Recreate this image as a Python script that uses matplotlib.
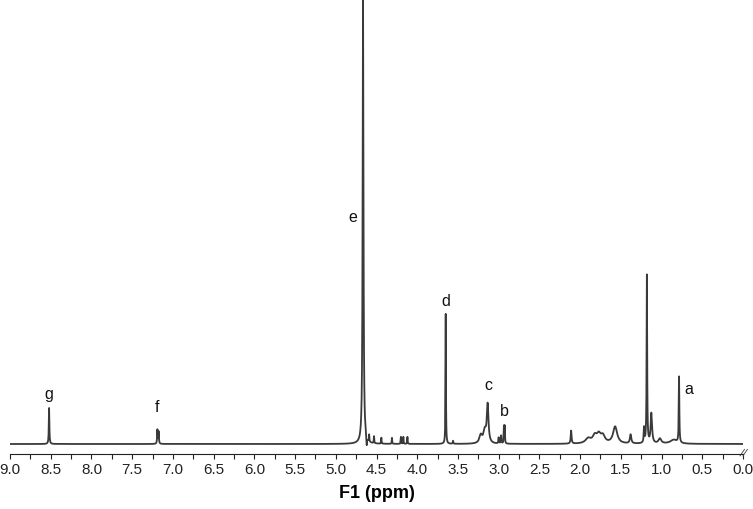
#!/usr/bin/env python3
"""
1H NMR 谱图重绘：峰位/峰高/半峰宽列表 -> 洛伦兹线形叠加
"""

import numpy as np
import matplotlib
matplotlib.use('Agg')
import matplotlib.pyplot as plt

plt.rcParams['font.family'] = ['Liberation Sans', 'DejaVu Sans']

# 峰位 (ppm)、峰高 (任意单位)、半峰宽 (ppm)
peak_ppm = [8.52, 7.19, 7.175, 4.665, 4.59, 4.53, 4.44, 4.31, 4.20, 4.17, 4.12,
            3.65, 3.56, 3.22, 3.17, 3.135, 3.00, 2.97, 2.935, 2.925,
            2.11, 1.90, 1.82, 1.77, 1.72, 1.57, 1.38, 1.215, 1.18, 1.125,
            1.02, 0.85, 0.785, 4.62]
peak_height = [36, 14, 12, 445, 7, 7, 6, 6, 7, 7, 7,
               130, 3, 8, 12, 38, 6, 8, 17, 17,
               13, 5, 7, 8, 7, 17, 9, 15, 168, 30,
               5, 4, 66, -9]
peak_width = [0.004, 0.004, 0.004, 0.006, 0.003, 0.003, 0.003, 0.003, 0.003, 0.003, 0.003,
              0.003, 0.004, 0.02, 0.02, 0.012, 0.004, 0.004, 0.003, 0.003,
              0.006, 0.04, 0.03, 0.03, 0.03, 0.03, 0.01, 0.005, 0.004, 0.01,
              0.02, 0.05, 0.004, 0.004]

# 峰标注
label_text = ['g', 'f', 'e', 'd', 'c', 'b', 'a']
label_ppm = [8.52, 7.19, 4.79, 3.65, 3.13, 2.93, 0.67]
label_y = [50, 37, 227, 143, 59, 33, 55]

xticks = [9.0, 8.5, 8.0, 7.5, 7.0, 6.5, 6.0, 5.5, 5.0, 4.5, 4.0,
          3.5, 3.0, 2.5, 2.0, 1.5, 1.0, 0.5, 0.0]


def spectrum(x):
    y = np.zeros_like(x)
    for x0, h, w in zip(peak_ppm, peak_height, peak_width):
        y += h / (1 + ((x - x0) / w) ** 2)
    return y


def main():
    x = np.linspace(0, 9, 36001)
    y = spectrum(x)

    fig = plt.figure(figsize=(7.53, 5.10), dpi=100)
    ax = fig.add_axes([10 / 753, 55 / 510, 733 / 753, 455 / 510])

    ax.plot(x, y, color='#3a3a3a', linewidth=1.3)

    for t, px, py in zip(label_text, label_ppm, label_y):
        ax.text(px, py, t, ha='center', va='center', fontsize=11.5, color='#111111')

    ax.set_xlim(9.0, 0.0)
    ax.set_ylim(-10, 445)
    ax.set_xticks(xticks)
    ax.set_xticklabels([f'{v:.1f}' for v in xticks], fontsize=11)
    ax.set_xticks(np.arange(0, 9.01, 0.25), minor=True)
    ax.tick_params(axis='x', which='both', direction='out', length=3.5, width=0.8,
                   colors='#222222', pad=2)
    ax.set_yticks([])
    for s in ['left', 'top', 'right']:
        ax.spines[s].set_visible(False)
    ax.spines['bottom'].set_color('#222222')
    ax.spines['bottom'].set_linewidth(0.8)

    # 坐标轴右端的断裂符号
    for dx in (0.0, 0.004):
        ax.plot([0.996 + dx, 1.002 + dx], [-0.004, 0.01], transform=ax.transAxes,
                color='#555555', linewidth=0.7, clip_on=False)

    ax.set_xlabel('F1 (ppm)', fontsize=13, fontweight='bold', labelpad=6)

    fig.savefig('out.png', dpi=100)
    plt.close(fig)


if __name__ == '__main__':
    main()
